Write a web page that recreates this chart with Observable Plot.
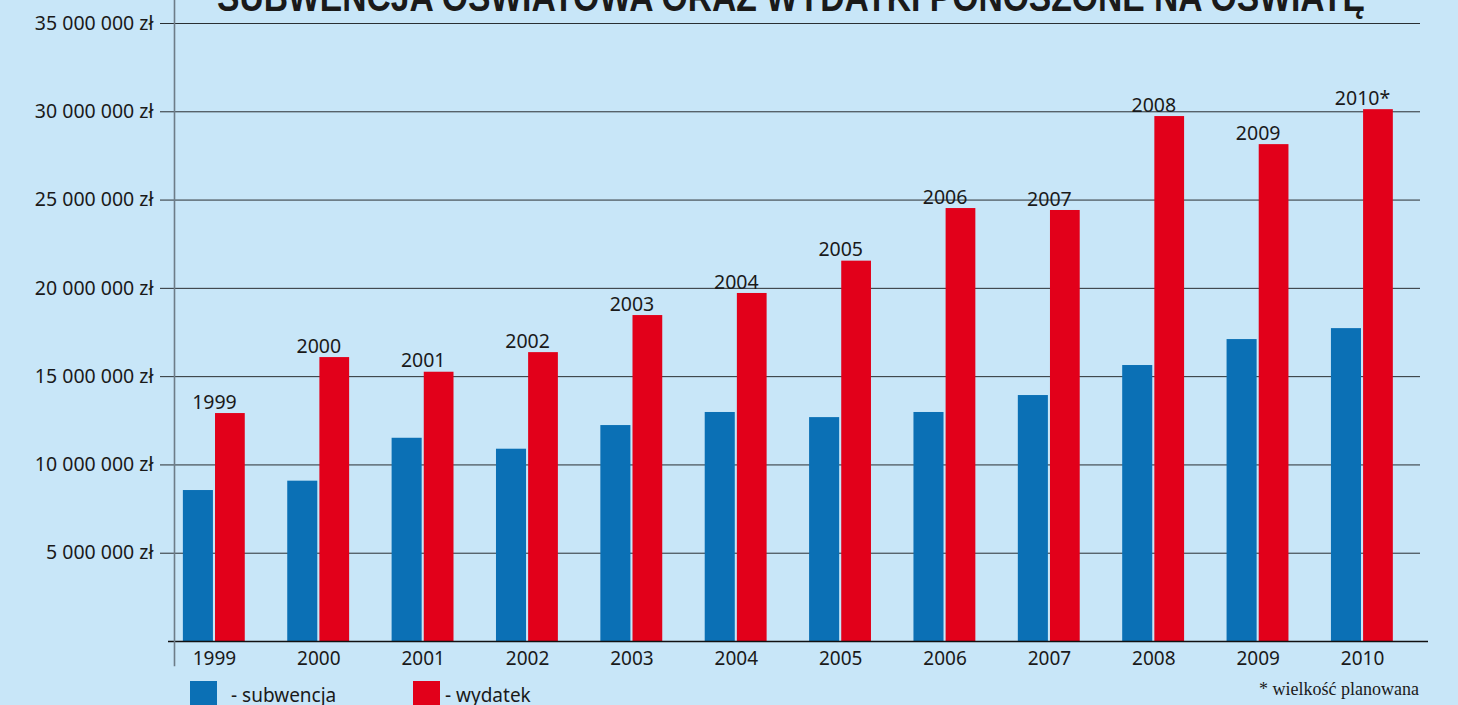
<!DOCTYPE html>
<html>
<head>
<meta charset="utf-8">
<script src="https://cdn.jsdelivr.net/npm/d3@7"></script>
<script src="https://cdn.jsdelivr.net/npm/@observablehq/plot@0.6"></script>
<style>
  html, body { margin: 0; padding: 0; background: #c8e6f8; overflow: hidden; }
  #wrap { position: relative; width: 1458px; height: 705px; }
  #title { position: absolute; left: 0; top: 0; }
  .legend { position: absolute; top: 681px; font-family: "Noto Sans", sans-serif; font-size: 19px; color: #1a1a1a; display: flex; align-items: flex-start; }
  .legend span.sw { display: inline-block; width: 27px; height: 30px; margin-right: 14px; }
  #note { position: absolute; right: 39px; top: 679px; font-family: "Liberation Serif", serif; font-size: 18px; color: #1a1a1a; }
</style>
</head>
<body>
<div id="wrap">
  <div id="chart"></div>
  <svg id="title" width="1458" height="30"><text x="791" y="11" text-anchor="middle" font-family="Liberation Sans Narrow, Liberation Sans, sans-serif" font-weight="bold" font-size="40" fill="#1a1a1a" textLength="1148" lengthAdjust="spacingAndGlyphs">SUBWENCJA OŚWIATOWA ORAZ WYDATKI PONOSZONE NA OŚWIATĘ</text></svg>
  <div class="legend" style="left:190px"><span class="sw" style="background:#0b70b5"></span><span style="margin-top:1px">- subwencja</span></div>
  <div class="legend" style="left:413px"><span class="sw" style="background:#e2001a;margin-right:5px"></span><span style="margin-top:1px">- wydatek</span></div>
  <div id="note">* wielkość planowana</div>
</div>
<script>
const years = [1999, 2000, 2001, 2002, 2003, 2004, 2005, 2006, 2007, 2008, 2009, 2010];
const yearLabels = ["1999", "2000", "2001", "2002", "2003", "2004", "2005", "2006", "2007", "2008", "2009", "2010*"];
const subwencja = [8550000, 9080000, 11510000, 10890000, 12230000, 12970000, 12680000, 12970000, 13930000, 15630000, 17100000, 17720000];
const wydatek = [12910000, 16080000, 15250000, 16360000, 18460000, 19710000, 21540000, 24520000, 24410000, 29730000, 28140000, 30120000];
const yTicks = [5000000, 10000000, 15000000, 20000000, 25000000, 30000000, 35000000];

const blueColor = "#0b70b5";
const redColor = "#e2001a";

const rows = years.map((y, i) => ({year: y, label: yearLabels[i], sub: subwencja[i], wyd: wydatek[i]}));

const fmt = d => d3.format(",")(d).replace(/,/g, " ") + " zł";

const chart = Plot.plot({
  width: 1458,
  height: 705,
  marginLeft: 174,
  marginRight: 30,
  marginTop: 23,
  marginBottom: 64,
  style: {background: "transparent", fontFamily: "Noto Sans, sans-serif", color: "#1a1a1a"},
  x: {domain: [1998.617, 2010.632]},
  y: {domain: [0, 35000000]},
  marks: [
    Plot.gridY(yTicks, {stroke: "#2a2f33", strokeOpacity: 1, strokeWidth: 1, insetRight: 8}),
    Plot.axisY(yTicks, {tickFormat: fmt, tickSize: 14, tickPadding: 7, fontSize: 19.5, stroke: "#2a2f33", label: null}),
    Plot.axisX(years, {tickFormat: d => String(d), tickSize: 0, tickPadding: 10, fontSize: 19, label: null}),
    Plot.rectY(rows, {x1: d => d.year - 0.298, x2: d => d.year - 0.01, y: "sub", fill: blueColor}),
    Plot.rectY(rows, {x1: d => d.year + 0.01, x2: d => d.year + 0.295, y: "wyd", fill: redColor}),
    Plot.text(rows, {x: "year", y: "wyd", text: "label", dy: -11, fontSize: 19.5, fill: "#1a1a1a"}),
    Plot.ruleY([0], {stroke: "#111", strokeWidth: 1.3, insetLeft: -6}),
    Plot.frame({anchor: "left", stroke: "#6d7c88", strokeWidth: 1.6, insetTop: -23, insetBottom: -24})
  ]
});
document.getElementById("chart").appendChild(chart);
</script>
</body>
</html>
